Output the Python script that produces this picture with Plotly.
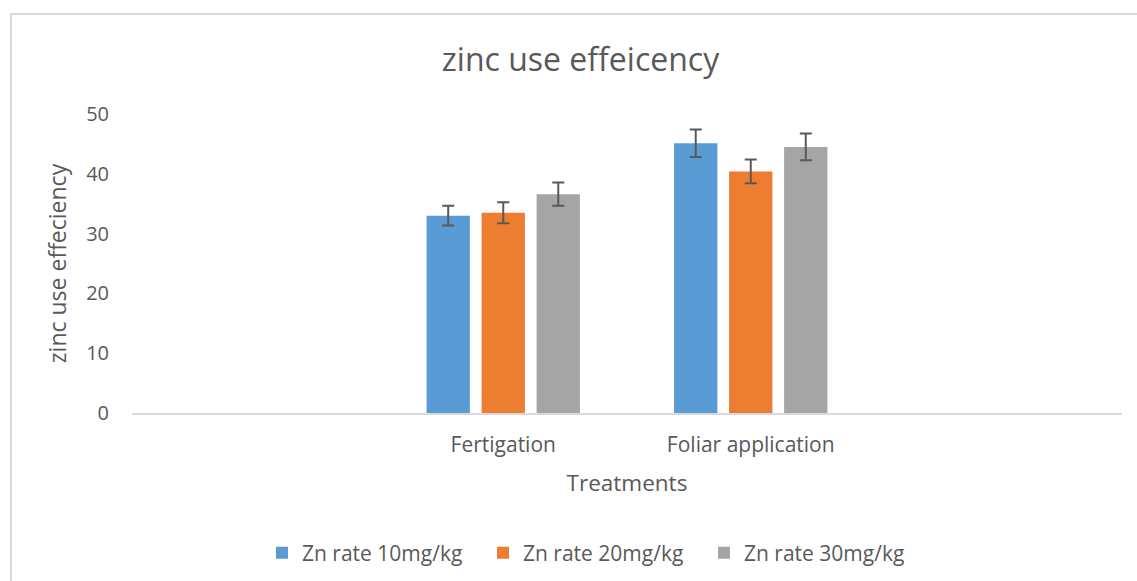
import plotly.graph_objects as go

categories = ["Fertigation", "Foliar application"]
series_names = ["Zn rate 10mg/kg", "Zn rate 20mg/kg", "Zn rate 30mg/kg"]
zn10 = [33.0, 45.1]
zn20 = [33.5, 40.4]
zn30 = [36.6, 44.5]
err10 = [1.65, 2.3]
err20 = [1.75, 2.0]
err30 = [1.95, 2.25]
y_ticks = [0, 10, 20, 30, 40, 50]

colors = ["#5B9BD5", "#ED7D31", "#A5A5A5"]
FONT = "Open Sans, sans-serif"
TXT = "#595959"

fig = go.Figure()
for name, vals, errs, col in zip(series_names, [zn10, zn20, zn30], [err10, err20, err30], colors):
    fig.add_trace(go.Bar(
        x=categories, y=vals, name=name,
        marker=dict(color=col, line=dict(width=0)),
        error_y=dict(type="data", array=errs, visible=True, color="#595959", thickness=2, width=6),
    ))

L, R, T, B = 132, 15, 114, 168
W, H = 1137, 581
pw, ph = W - L - R, H - T - B

def px2paper_x(px):
    return (px - L) / pw

def px2paper_y(py):
    return (H - B - py) / ph

fig.update_layout(
    width=W, height=H,
    margin=dict(l=L, r=R, t=T, b=B, autoexpand=False),
    paper_bgcolor="white", plot_bgcolor="white",
    font=dict(family=FONT, color=TXT, size=20),
    title=dict(text="zinc use effeicency", x=580.5 / W, xanchor="center", xref="container",
               y=1 - 60 / H, yanchor="middle", font=dict(size=32, color=TXT)),
    barmode="group", bargap=0.333, bargroupgap=0.213,
    showlegend=True,
    legend=dict(orientation="h", x=px2paper_x(262), xanchor="left", xref="paper",
                y=px2paper_y(553), yanchor="middle", font=dict(size=21, color=TXT),
                itemwidth=30, traceorder="normal", entrywidth=176, entrywidthmode="pixels"),
    xaxis=dict(type="category", categoryorder="array", categoryarray=categories,
               range=[-1.5, 2.5], showline=True, linecolor="#D9D9D9", linewidth=2,
               ticks="", showgrid=False, tickfont=dict(size=21, color=TXT), ticklabelstandoff=12,
               automargin=False,
               title=dict(text="Treatments", font=dict(size=22.5, color=TXT), standoff=18)),
    yaxis=dict(range=[0, 50], tickvals=y_ticks, showgrid=False, zeroline=False,
               showline=False, ticks="", tickfont=dict(size=20, color=TXT), ticklabelstandoff=22,
               automargin=False,
               title=dict(text="zinc use effeciency", font=dict(size=23, color=TXT), standoff=13)),
    shapes=[dict(type="rect", xref="paper", yref="paper",
                 x0=px2paper_x(11), x1=px2paper_x(1160),
                 y0=px2paper_y(600), y1=px2paper_y(14),
                 line=dict(color="#D9D9D9", width=2), fillcolor="rgba(0,0,0,0)", layer="below")],
)

fig.write_html("out.html", config={"displayModeBar": False},
               post_script="document.body.style.margin='0';document.body.style.overflow='hidden';")
